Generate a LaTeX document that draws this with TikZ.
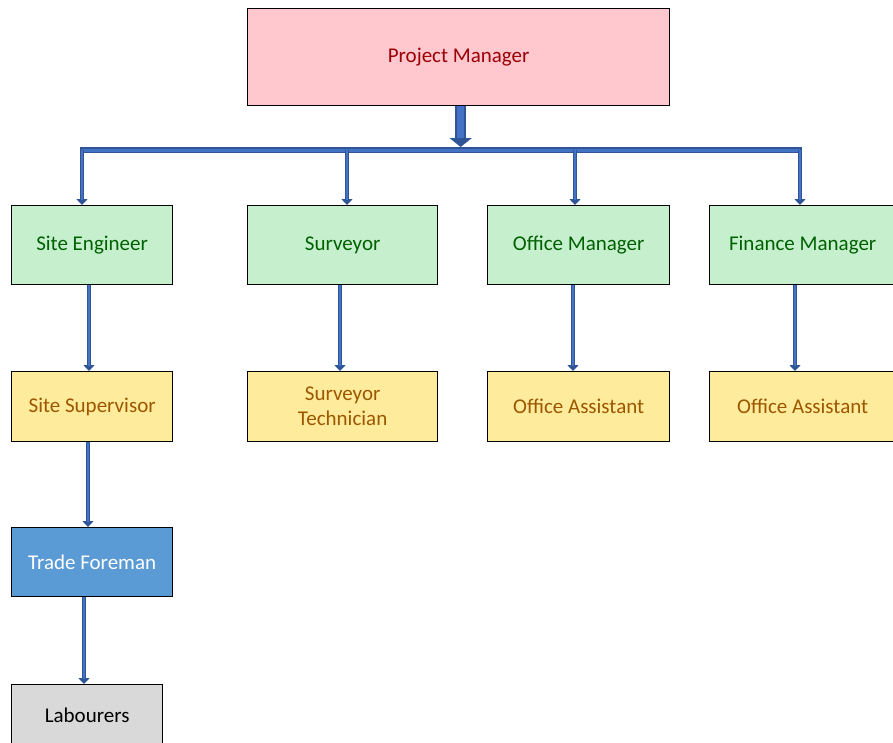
\documentclass[tikz,border=0pt]{standalone}
\usepackage{fontspec}
\setmainfont{Carlito}
\usetikzlibrary{arrows.meta,calc}

\definecolor{pmfill}{HTML}{FFC7CE}
\definecolor{pmtext}{HTML}{9C0006}
\definecolor{grfill}{HTML}{C6EFCE}
\definecolor{grtext}{HTML}{006100}
\definecolor{ylfill}{HTML}{FFEB9C}
\definecolor{yltext}{HTML}{9C5700}
\definecolor{tffill}{HTML}{5B9BD5}
\definecolor{lbfill}{HTML}{D9D9D9}
\definecolor{linkdark}{HTML}{2F5597}
\definecolor{linklight}{HTML}{4472C4}

\tikzset{
  box/.style={draw=black, line width=1.3pt, anchor=north west, align=center,
              inner sep=2pt, font=\fontsize{21}{25}\selectfont},
  lvltop/.style={box, fill=pmfill, text=pmtext},
  lvlgreen/.style={box, fill=grfill, text=grtext},
  lvlyellow/.style={box, fill=ylfill, text=yltext},
  lvlblue/.style={box, fill=tffill, text=white},
  lvlgrey/.style={box, fill=lbfill, text=black},
  link/.style={draw=linkdark, line width=4pt,
               -{Triangle[length=6pt,width=11pt,fill=linkdark]}},
  linkin/.style={draw=linklight, line width=1.6pt, shorten >=5pt},
}

\begin{document}
\begin{tikzpicture}[x=1pt,y=-1pt]
\useasboundingbox (0,0) rectangle (893,742);
\clip (0,0) rectangle (893,742);

% boxes
\node[lvltop, minimum width=422pt, minimum height=97pt] (pm) at (247,8) {Project Manager};

\node[lvlgreen, minimum width=161pt, minimum height=79pt] (se) at (11,205) {Site Engineer};
\node[lvlgreen, minimum width=190pt, minimum height=79pt] (sv) at (247,205) {Surveyor};
\node[lvlgreen, minimum width=182pt, minimum height=79pt] (om) at (487,205) {Office Manager};
\node[lvlgreen, minimum width=186pt, minimum height=79pt] (fm) at (709,205) {Finance Manager};

\node[lvlyellow, minimum width=161pt, minimum height=70pt] (ss) at (11,371) {Site Supervisor};
\node[lvlyellow, minimum width=190pt, minimum height=70pt] (st) at (247,371) {Surveyor\\Technician};
\node[lvlyellow, minimum width=182pt, minimum height=70pt] (oa) at (487,371) {Office Assistant};
\node[lvlyellow, minimum width=186pt, minimum height=70pt] (ob) at (709,371) {Office Assistant};

\node[lvlblue, minimum width=161pt, minimum height=69pt] (tf) at (11,527) {Trade Foreman};
\node[lvlgrey, minimum width=151pt, minimum height=62pt] (lb) at (11,684) {Labourers};

% distribution bar
\coordinate (b1) at (82,150);
\coordinate (b2) at (347,150);
\coordinate (b3) at (575,150);
\coordinate (b4) at (800,150);
\coordinate (pmfoot) at ($(pm.south)+(2,0)$);

% main arrow into the bar
\draw[draw=linkdark, line width=11pt,
      -{Triangle[length=9pt,width=22pt,fill=linkdark]}]
  (pmfoot) -- (pmfoot |- 0,147);
\draw[draw=linklight, line width=7pt, shorten >=9pt] (pmfoot) -- (pmfoot |- 0,147);

\draw[draw=linkdark, line width=6.5pt] ($(b1)+(-2,0)$) -- ($(b4)+(2,0)$);
\draw[draw=linklight, line width=3pt] (b1) -- (b4);

% drops to the second row
\foreach \b/\n in {b1/se, b2/sv, b3/om, b4/fm}{
  \draw[link] (\b) -- (\b |- \n.north);
  \draw[linkin] (\b) -- (\b |- \n.north);
}

% second row to third row
\coordinate (c1) at (89,0);
\coordinate (c2) at (340,0);
\coordinate (c3) at (573,0);
\coordinate (c4) at (795,0);
\foreach \c/\u/\d in {c1/se/ss, c2/sv/st, c3/om/oa, c4/fm/ob}{
  \draw[link] (\c |- \u.south) -- (\c |- \d.north);
  \draw[linkin] (\c |- \u.south) -- (\c |- \d.north);
}

% site chain downwards
\coordinate (c5) at (88,0);
\coordinate (c6) at (84,0);
\draw[link] (c5 |- ss.south) -- (c5 |- tf.north);
\draw[linkin] (c5 |- ss.south) -- (c5 |- tf.north);
\draw[link] (c6 |- tf.south) -- (c6 |- lb.north);
\draw[linkin] (c6 |- tf.south) -- (c6 |- lb.north);
\end{tikzpicture}
\end{document}
